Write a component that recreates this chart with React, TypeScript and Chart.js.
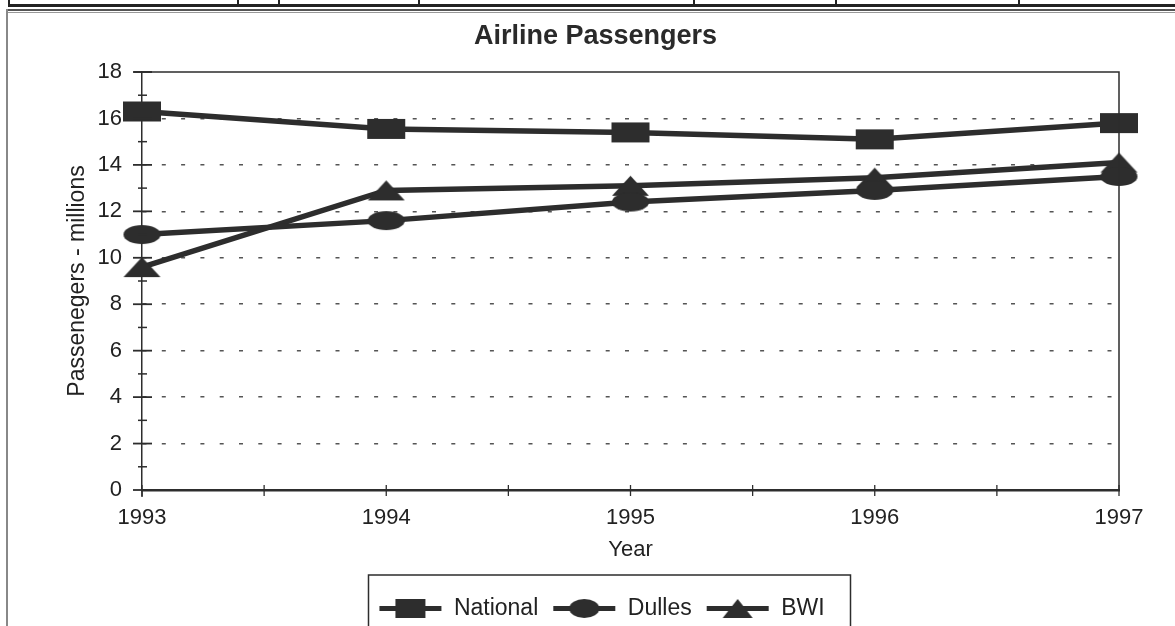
import React, { useEffect, useRef } from 'react';
import { Chart, registerables } from 'chart.js';

Chart.register(...registerables);

// ---- data ----
const years = [1993, 1994, 1995, 1996, 1997];
const seriesNames = ['National', 'Dulles', 'BWI'];
const national = [16.3, 15.55, 15.4, 15.1, 15.8];
const dulles = [11.0, 11.6, 12.4, 12.9, 13.5];
const bwi = [9.6, 12.9, 13.1, 13.45, 14.1];
const yMin = 0;
const yMax = 18;
const yStep = 2;
const yMinorTicks = [1, 3, 5, 7, 9, 11, 13, 15, 17];
const xStep = 0.5;

const INK = '#2d2d2d';
const FONT = '"Liberation Sans", Arial, sans-serif';
const LEGEND_SHIFT = 42;
const TITLE_SHIFT = 36;

type Shape = 'rect' | 'ellipse' | 'triangle';

function makeMarker(shape: Shape, w: number, h: number, lineLen = 0, lineW = 5) {
  const cw = Math.max(w, lineLen) + 2;
  const ch = h + 2;
  const c = document.createElement('canvas');
  c.width = cw;
  c.height = ch;
  const ctx = c.getContext('2d')!;
  ctx.fillStyle = INK;
  ctx.strokeStyle = INK;
  const cx = cw / 2;
  const cy = ch / 2;
  if (lineLen) {
    ctx.lineWidth = lineW;
    ctx.beginPath();
    ctx.moveTo((cw - lineLen) / 2, cy);
    ctx.lineTo((cw + lineLen) / 2, cy);
    ctx.stroke();
  }
  ctx.beginPath();
  if (shape === 'rect') {
    ctx.rect(cx - w / 2, cy - h / 2, w, h);
  } else if (shape === 'ellipse') {
    ctx.ellipse(cx, cy, w / 2, h / 2, 0, 0, Math.PI * 2);
  } else {
    ctx.moveTo(cx, cy - h / 2);
    ctx.lineTo(cx + w / 2, cy + h / 2);
    ctx.lineTo(cx - w / 2, cy + h / 2);
    ctx.closePath();
  }
  ctx.fill();
  return c;
}

const shapes: Shape[] = ['rect', 'ellipse', 'triangle'];

export default function App() {
  const ref = useRef<HTMLCanvasElement | null>(null);

  useEffect(() => {
    if (!ref.current) return;
    const pointImgs = [
      makeMarker('rect', 38, 20),
      makeMarker('ellipse', 37, 19),
      makeMarker('triangle', 37, 20),
    ];
    const legendImgs = shapes.map((s) => makeMarker(s, 30, 19, 62, 5));
    const values = [national, dulles, bwi];

    const framePlugin = {
      id: 'frame',
      afterLayout(chart: any) {
        const lg = chart.legend;
        if (lg) {
          lg.left += LEGEND_SHIFT;
          lg.right += LEGEND_SHIFT;
        }
        const tt = chart.titleBlock;
        if (tt) {
          tt.left += TITLE_SHIFT;
          tt.right += TITLE_SHIFT;
        }
      },
      afterDraw(chart: any) {
        const { ctx, chartArea: a, scales } = chart;
        const xs = scales.x;
        const ys = scales.y;
        const seg = (x1: number, y1: number, x2: number, y2: number, w: number) => {
          ctx.lineWidth = w;
          ctx.beginPath();
          ctx.moveTo(x1, y1);
          ctx.lineTo(x2, y2);
          ctx.stroke();
        };
        ctx.save();
        ctx.strokeStyle = INK;
        // top and right frame
        ctx.lineWidth = 1.5;
        ctx.beginPath();
        ctx.moveTo(a.left - 8, a.top);
        ctx.lineTo(a.right, a.top);
        ctx.lineTo(a.right, a.bottom);
        ctx.stroke();
        // y axis small overhang below x axis
        seg(a.left, a.bottom, a.left, a.bottom + 7, 1.5);
        // y major ticks crossing axis
        ys.ticks.forEach((t: any) => {
          const py = ys.getPixelForValue(t.value);
          seg(a.left - 9, py, a.left + 10, py, 1.8);
        });
        yMinorTicks.forEach((v) => {
          const py = ys.getPixelForValue(v);
          seg(a.left - 4, py, a.left + 5, py, 1.5);
        });
        // x ticks crossing axis
        xs.ticks.forEach((t: any) => {
          const px = xs.getPixelForValue(t.value);
          seg(px, a.bottom - 5, px, a.bottom + 6, 1.3);
        });
        // legend box
        const lg = chart.legend;
        if (lg) {
          const cx = (lg.left + lg.right) / 2 + 8;
          const bw = 482;
          ctx.lineWidth = 1.5;
          ctx.beginPath();
          ctx.moveTo(cx - bw / 2, chart.height + 5);
          ctx.lineTo(cx - bw / 2, lg.top - 8);
          ctx.lineTo(cx + bw / 2, lg.top - 8);
          ctx.lineTo(cx + bw / 2, chart.height + 5);
          ctx.stroke();
        }
        ctx.restore();
      },
    };

    const chart = new Chart(ref.current, {
      type: 'line',
      data: {
        datasets: seriesNames.map((name, i) => ({
          label: name,
          data: years.map((yr, j) => ({ x: yr, y: values[i][j] })),
          borderColor: INK,
          backgroundColor: INK,
          borderWidth: 5.5,
          pointStyle: pointImgs[i] as any,
          pointRadius: 10,
          clip: false as any,
          tension: 0,
        })),
      },
      options: {
        animation: false,
        responsive: false,
        maintainAspectRatio: false,
        layout: { padding: { left: 0, right: 56, top: 0, bottom: 0 } },
        plugins: {
          title: {
            display: true,
            text: 'Airline Passengers',
            color: '#2a2a2a',
            font: { family: FONT, size: 27, weight: 'bold' },
            padding: { top: 20, bottom: 19.6 },
          },
          legend: {
            display: true,
            position: 'bottom',
            labels: {
              usePointStyle: true,
              pointStyleWidth: 64,
              padding: 14,
              color: '#222',
              font: { family: FONT, size: 23 },
              generateLabels: () =>
                seriesNames.map((n, i) => ({
                  text: n,
                  pointStyle: legendImgs[i] as any,
                  fillStyle: INK,
                  strokeStyle: INK,
                  lineWidth: 0,
                  hidden: false,
                  datasetIndex: i,
                  fontColor: '#222',
                })),
            },
          },
          tooltip: { enabled: false },
        },
        scales: {
          x: {
            type: 'linear',
            min: years[0],
            max: years[years.length - 1],
            afterFit: (s: any) => {
              s.height = 93;
            },
            ticks: {
              stepSize: xStep,
              autoSkip: false,
              maxRotation: 0,
              padding: 15,
              color: '#222',
              font: { family: FONT, size: 22 },
              callback: (v: any) => (Number.isInteger(v) ? String(v) : ''),
            },
            grid: { display: false, drawTicks: false },
            border: { display: true, color: INK, width: 2.5 },
            title: {
              display: true,
              text: 'Year',
              color: '#222',
              font: { family: FONT, size: 22 },
              padding: { top: 0, bottom: 20 },
            },
          },
          y: {
            min: yMin,
            max: yMax,
            afterFit: (s: any) => {
              s.width = 142;
            },
            ticks: {
              stepSize: yStep,
              padding: 20,
              color: '#222',
              font: { family: FONT, size: 22 },
            },
            grid: {
              drawTicks: false,
              lineWidth: 1.6,
              color: (c: any) =>
                c.tick && (c.tick.value === yMin || c.tick.value === yMax) ? 'rgba(0,0,0,0)' : '#555',
            },
            border: { display: true, color: INK, width: 1.5, dash: [4, 15.3] },
            title: {
              display: true,
              text: 'Passenegers - millions',
              color: '#222',
              font: { family: FONT, size: 23 },
              padding: { top: 64, bottom: 0 },
            },
          },
        },
      },
      plugins: [framePlugin],
    } as any);

    return () => chart.destroy();
  }, []);

  const sep = (x: number) => (
    <div
      key={x}
      style={{ position: 'absolute', left: x, top: 0, width: 1.5, height: 7, background: '#222' }}
    />
  );

  return (
    <div
      style={{
        position: 'fixed',
        left: 0,
        top: 0,
        width: 1175,
        height: 626,
        overflow: 'hidden',
        background: '#fff',
      }}
    >
      <div style={{ position: 'absolute', left: 8, top: 4, width: 1167, height: 2.5, background: '#222' }} />
      {[8, 237, 278, 418, 693, 835, 1018].map(sep)}
      <div style={{ position: 'absolute', left: 6, top: 9, width: 1169, height: 1.5, background: '#555' }} />
      <div style={{ position: 'absolute', left: 6, top: 12, width: 1169, height: 1, background: '#999' }} />
      <div style={{ position: 'absolute', left: 6, top: 9, width: 2, height: 617, background: '#888' }} />
      <canvas
        ref={ref}
        width={1175}
        height={630}
        style={{ position: 'absolute', left: 0, top: 0, width: 1175, height: 630 }}
      />
    </div>
  );
}
